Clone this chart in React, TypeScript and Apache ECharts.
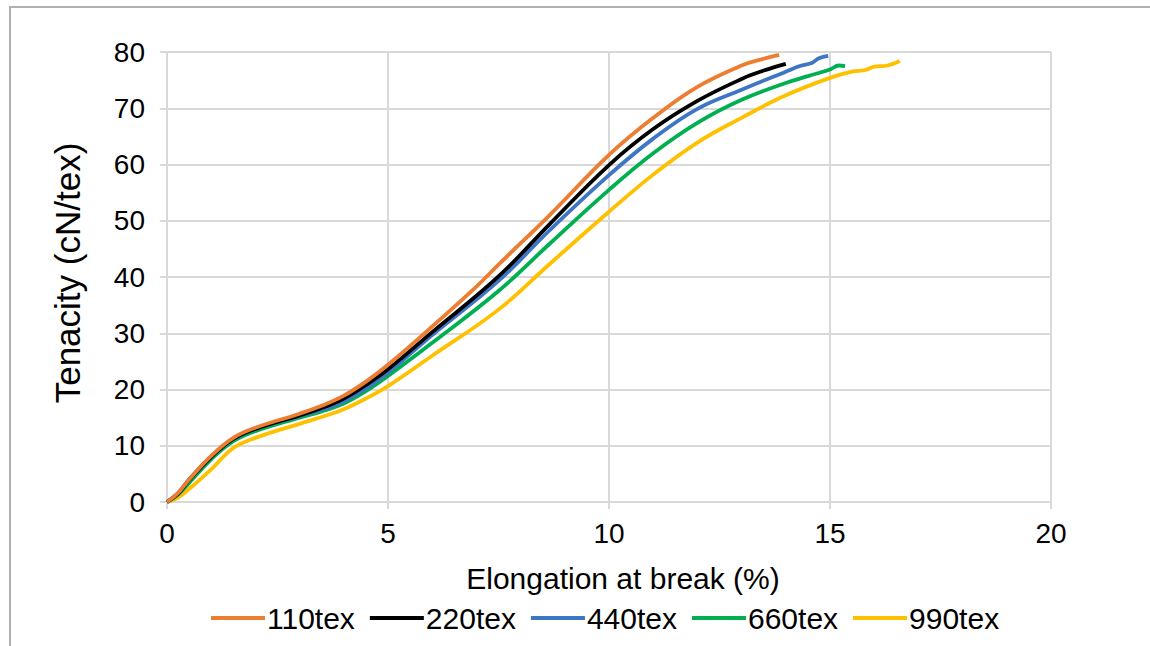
import React, { useEffect, useRef } from "react";
import * as echarts from "echarts";

const seriesNames = ["110tex", "220tex", "440tex", "660tex", "990tex"];
const seriesColors = ["#ED7D31", "#000000", "#3D76C4", "#00B050", "#FFC000"];

const x110 = [0, 0.25, 0.5, 1, 1.5, 2, 3, 3.5, 4, 4.5, 5, 6, 7, 7.5, 8.67, 10, 11, 12, 13, 13.5, 13.75, 13.85];
const y110 = [0, 1.6, 4, 8.2, 11.4, 13.2, 15.7, 17.1, 18.9, 21.4, 24.4, 31.2, 38.3, 42.2, 51.1, 61.7, 68.3, 73.8, 77.6, 78.8, 79.3, 79.5];

const x220 = [0, 0.25, 0.5, 1, 1.5, 2, 3, 3.5, 4, 4.5, 5, 6, 7.5, 8.67, 10, 11, 12, 13, 13.5, 14.0];
const y220 = [0, 1.5, 3.9, 8, 11.2, 13, 15.4, 16.7, 18.4, 20.8, 23.6, 30.2, 40.1, 49.5, 59.9, 66.3, 71.3, 75.2, 76.7, 77.9];

const x440 = [0, 0.25, 0.5, 1, 1.5, 2, 3, 3.5, 4, 4.5, 5, 6, 7.5, 8.67, 10, 11, 12, 13, 14, 14.32, 14.6, 14.75, 14.96];
const y440 = [0, 1.6, 4, 8.1, 11.2, 13, 15.3, 16.4, 17.9, 20.2, 23, 29.7, 39.3, 48.4, 58.1, 64.6, 69.9, 73.3, 76.5, 77.5, 78.1, 78.9, 79.3];

const x660 = [0, 0.25, 0.5, 1, 1.5, 2, 3, 3.5, 4, 4.5, 5, 6, 7.5, 8.67, 10, 11, 12, 13, 14, 14.5, 15, 15.2, 15.34];
const y660 = [0, 1.3, 3.4, 7.6, 10.8, 12.6, 15, 16.1, 17.5, 19.7, 22.4, 28.3, 37.5, 46, 55.5, 62, 67.4, 71.5, 74.5, 75.7, 76.9, 77.6, 77.5];

const x990 = [0, 0.25, 0.5, 1, 1.5, 2, 3, 3.5, 4, 4.5, 5, 6, 7.5, 8.67, 10, 11, 12, 13, 14, 15, 15.5, 15.8, 16.0, 16.3, 16.58];
const y990 = [0, 0.8, 2.3, 5.8, 9.6, 11.4, 13.9, 15.1, 16.5, 18.4, 20.6, 26.0, 34.2, 42.4, 51.6, 58.2, 63.9, 68.3, 72.3, 75.4, 76.5, 76.8, 77.4, 77.6, 78.4];

const xSets = [x110, x220, x440, x660, x990];
const ySets = [y110, y220, y440, y660, y990];

const xTicks = [0, 5, 10, 15, 20];
const yTicks = [0, 10, 20, 30, 40, 50, 60, 70, 80];

const FONT = "'Liberation Sans', Arial, sans-serif";

export default function App() {
  const ref = useRef<HTMLDivElement>(null);
  useEffect(() => {
    document.body.style.margin = "0";
    if (!ref.current) return;
    const chart = echarts.init(ref.current, null, { renderer: "svg" });
    const series = seriesNames.map((name, i) => ({
      name,
      type: "line",
      smooth: 0.4,
      showSymbol: false,
      symbol: "none",
      data: xSets[i].map((x, j) => [x, ySets[i][j]]),
      lineStyle: { color: seriesColors[i], width: 3.8 },
      itemStyle: { color: seriesColors[i] },
      z: 10 - i,
    }));
    chart.setOption({
      animation: false,
      backgroundColor: "#ffffff",
      textStyle: { fontFamily: FONT },
      grid: { left: 167, right: 99, top: 52, bottom: 144, containLabel: false },
      graphic: [
        {
          type: "rect",
          shape: { x: 10, y: 7, width: 1200, height: 700 },
          style: { fill: "none", stroke: "#b0b0b0", lineWidth: 2 },
          silent: true,
        },
      ],
      xAxis: {
        type: "value",
        min: xTicks[0],
        max: xTicks[xTicks.length - 1],
        interval: 5,
        name: "Elongation at break (%)",
        nameLocation: "middle",
        nameGap: 61,
        nameTextStyle: { fontSize: 30, color: "#000", fontFamily: FONT, padding: [0, 0, 0, 28] },
        axisLine: { show: true, lineStyle: { color: "#d9d9d9", width: 2 } },
        axisTick: { show: true, length: 7, lineStyle: { color: "#d9d9d9", width: 2 } },
        axisLabel: { fontSize: 28, color: "#000", margin: 17, fontFamily: FONT },
        splitLine: { show: true, lineStyle: { color: "#d9d9d9", width: 2 } },
      },
      yAxis: {
        type: "value",
        min: yTicks[0],
        max: yTicks[yTicks.length - 1],
        interval: 10,
        name: "Tenacity (cN/tex)",
        nameLocation: "middle",
        nameGap: 82,
        nameRotate: 90,
        nameTextStyle: { fontSize: 35, color: "#000", fontFamily: FONT, padding: [0, 0, 0, 8] },
        axisLine: { show: true, lineStyle: { color: "#d9d9d9", width: 2 } },
        axisTick: { show: true, length: 7, lineStyle: { color: "#d9d9d9", width: 2 } },
        axisLabel: { fontSize: 28, color: "#000", margin: 22, fontFamily: FONT },
        splitLine: { show: true, lineStyle: { color: "#d9d9d9", width: 2 } },
      },
      legend: {
        data: seriesNames,
        bottom: 8,
        left: 206,
        icon: "rect",
        itemWidth: 54,
        itemHeight: 4,
        itemGap: 15,
        textStyle: { fontSize: 30, color: "#000", fontFamily: FONT, padding: [0, 0, 0, -3] },
      },
      series,
    });
    return () => chart.dispose();
  }, []);
  return <div ref={ref} style={{ width: 1150, height: 646 }} />;
}
